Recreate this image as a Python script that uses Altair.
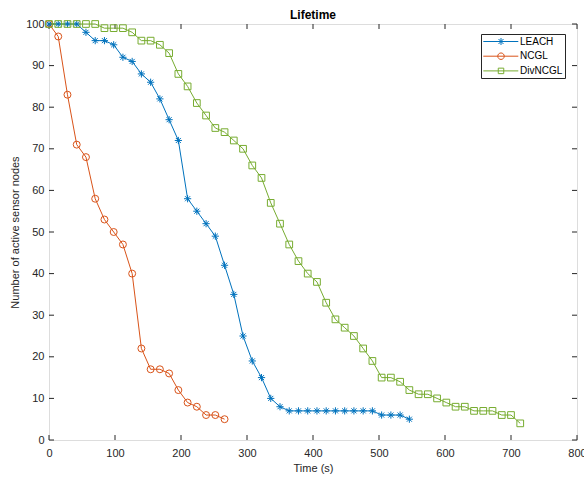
import altair as alt
import pandas as pd

# ---- data ----
series_names = ["LEACH", "NCGL", "DivNCGL"]
series_colors = ["#0072BD", "#D95319", "#77AC30"]

leach_time = [0, 14, 28, 42, 56, 70, 84, 98, 112, 126, 140, 154, 168, 182, 196, 210,
              224, 238, 252, 266, 280, 294, 308, 322, 336, 350, 364, 378, 392, 406,
              420, 434, 448, 462, 476, 490, 504, 518, 532, 546]
leach_nodes = [100, 100, 100, 100, 98, 96, 96, 95, 92, 91, 88, 86, 82, 77, 72, 58,
               55, 52, 49, 42, 35, 25, 19, 15, 10, 8, 7, 7, 7, 7,
               7, 7, 7, 7, 7, 7, 6, 6, 6, 5]

ncgl_time = [0, 14, 28, 42, 56, 70, 84, 98, 112, 126, 140, 154, 168, 182, 196, 210,
             224, 238, 252, 266]
ncgl_nodes = [100, 97, 83, 71, 68, 58, 53, 50, 47, 40, 22, 17, 17, 16, 12, 9,
              8, 6, 6, 5]

div_time = [0, 14, 28, 42, 56, 70, 84, 98, 112, 126, 140, 154, 168, 182, 196, 210,
            224, 238, 252, 266, 280, 294, 308, 322, 336, 350, 364, 378, 392, 406,
            420, 434, 448, 462, 476, 490, 504, 518, 532, 546, 560, 574, 588, 602,
            616, 630, 644, 658, 672, 686, 700, 714]
div_nodes = [100, 100, 100, 100, 100, 100, 99, 99, 99, 98, 96, 96, 95, 93, 88, 85,
             81, 78, 75, 74, 72, 70, 66, 63, 57, 52, 47, 43, 40, 38,
             33, 29, 27, 25, 22, 19, 15, 15, 14, 12, 11, 11, 10, 9,
             8, 8, 7, 7, 7, 6, 6, 4]

x_ticks = [0, 100, 200, 300, 400, 500, 600, 700, 800]
y_ticks = [0, 10, 20, 30, 40, 50, 60, 70, 80, 90, 100]

# ---- build table ----
rows = []
for name, ts, ns in [("LEACH", leach_time, leach_nodes),
                     ("NCGL", ncgl_time, ncgl_nodes),
                     ("DivNCGL", div_time, div_nodes)]:
    for t, n in zip(ts, ns):
        rows.append({"time": t, "nodes": n, "series": name, "legend": name})
df = pd.DataFrame(rows)

W, H = 528, 416
FONT = "Liberation Sans"
AX = "#262626"

star_path = "M-1,0L1,0M0,-1L0,1M-0.7,-0.7L0.7,0.7M-0.7,0.7L0.7,-0.7"

xscale = alt.Scale(domain=[0, 800], nice=False, zero=False)
yscale = alt.Scale(domain=[0, 100], nice=False, zero=False)
xaxis = alt.Axis(values=x_ticks, title="Time (s)", grid=False, domain=False, ticks=False,
                 tickSize=0, labelPadding=7, titlePadding=4, labelFontSize=11,
                 titleFontSize=11, labelFont=FONT, titleFont=FONT, labelColor=AX,
                 titleColor=AX, titleFontWeight="normal", labelFlush=False)
yaxis = alt.Axis(values=y_ticks, title="Number of active sensor nodes", grid=False,
                 domain=False, ticks=False, tickSize=0, labelPadding=5, titlePadding=5,
                 labelFontSize=11, titleFontSize=11, labelFont=FONT, titleFont=FONT,
                 labelColor=AX, titleColor=AX, titleFontWeight="normal", labelFlush=False)

# legend symbol = line sample + marker (path units: 5 px each at symbolSize 100)
leg_star = "M-1.04,0L5.96,0M2.5,-0.7L2.5,0.7M2.0,-0.5L3.0,0.5M2.0,0.5L3.0,-0.5"
leg_circ = "M-1.04,0L5.96,0M3.15,0A0.65,0.65 0 1,1 1.85,0A0.65,0.65 0 1,1 3.15,0Z"
leg_sq = "M-1.04,0L5.96,0M1.95,-0.55L3.05,-0.55L3.05,0.55L1.95,0.55Z"

color_main = alt.Color("series:N",
                       scale=alt.Scale(domain=series_names, range=series_colors),
                       legend=None)
x_enc = alt.X("time:Q", scale=xscale, axis=xaxis, title="Time (s)")
y_enc = alt.Y("nodes:Q", scale=yscale, axis=yaxis, title="Number of active sensor nodes")

base = alt.Chart(df)
lines = base.mark_line(strokeWidth=1).encode(
    x=x_enc, y=y_enc, color=color_main, detail="series:N")
points = base.mark_point(filled=False, strokeWidth=1, opacity=1).encode(
    x=x_enc, y=y_enc, color=color_main,
    shape=alt.Shape("series:N", scale=alt.Scale(domain=series_names,
                    range=[star_path, "circle", "square"]), legend=None),
    size=alt.Size("series:N", scale=alt.Scale(domain=series_names, range=[52, 45, 32]),
                  legend=None),
)

leg = alt.Legend(title=None, orient="none", legendX=432, legendY=10, direction="vertical",
                 strokeColor="#262626", fillColor="white", padding=2, rowPadding=3.7,
                 labelFont=FONT, labelFontSize=10, labelColor="black", labelOffset=26,
                 symbolSize=100, symbolStrokeWidth=1, symbolOpacity=1,
                 symbolFillColor="transparent", cornerRadius=0)
legend_layer = base.mark_point(filled=False, strokeWidth=1, opacity=0).encode(
    x=x_enc, y=y_enc,
    color=alt.Color("legend:N", scale=alt.Scale(domain=series_names, range=series_colors),
                    legend=leg),
    shape=alt.Shape("legend:N", scale=alt.Scale(domain=series_names,
                    range=[leg_star, leg_circ, leg_sq]), legend=leg),
)

xt = pd.DataFrame({"time": x_ticks})
yt = pd.DataFrame({"nodes": y_ticks})
xtick_b = alt.Chart(xt).mark_rule(color=AX, strokeWidth=1).encode(
    x=x_enc, y=alt.value(H), y2=alt.value(H - 5))
xtick_t = alt.Chart(xt).mark_rule(color=AX, strokeWidth=1).encode(
    x=x_enc, y=alt.value(0), y2=alt.value(5))
ytick_l = alt.Chart(yt).mark_rule(color=AX, strokeWidth=1).encode(
    y=y_enc, x=alt.value(0), x2=alt.value(5))
ytick_r = alt.Chart(yt).mark_rule(color=AX, strokeWidth=1).encode(
    y=y_enc, x=alt.value(W), x2=alt.value(W - 5))

chart = alt.layer(xtick_b, xtick_t, ytick_l, ytick_r, lines, points, legend_layer).resolve_scale(
    color="independent", shape="independent"
).properties(
    width=W, height=H,
    title=alt.TitleParams("Lifetime", font=FONT, fontSize=12, fontWeight="bold",
                          color="black", offset=5, anchor="middle", dy=9),
    autosize=alt.AutoSizeParams(type="none"),
    padding={"left": 49, "top": 24, "right": 7, "bottom": 37},
).configure_view(stroke="#404040", strokeWidth=1).configure(background="white")

chart.save("out.html", embed_options={"renderer": "svg", "actions": False})
